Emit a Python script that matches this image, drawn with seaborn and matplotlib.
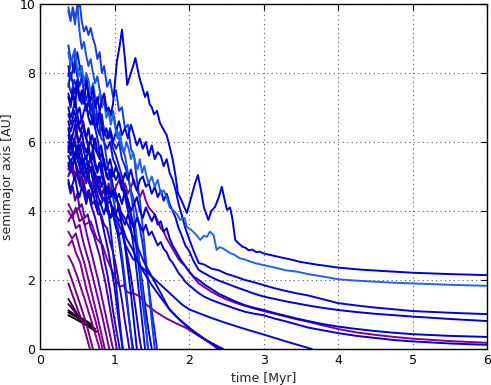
import pandas as pd
import matplotlib
matplotlib.use("Agg")
import matplotlib.pyplot as plt
from matplotlib.colors import LinearSegmentedColormap
import seaborn as sns

# ---------------- data: time [Myr] / semimajor axis [AU] per body ----------------
t_B1 = [0.38, 0.48, 0.58, 0.66, 0.74]
a_B1 = [1.06, 0.94, 0.80, 0.70, 0.58]
t_B2 = [0.38, 0.50, 0.60, 0.70, 0.76]
a_B2 = [0.98, 0.84, 0.72, 0.58, 0.50]
t_B3 = [0.38, 0.46, 0.55, 0.63, 0.70]
a_B3 = [1.12, 1.00, 0.90, 0.80, 0.70]
t_D1 = [0.38, 0.45, 0.52, 0.60]
a_D1 = [1.45, 1.20, 0.95, 0.70]
t_D2 = [0.38, 0.44, 0.50, 0.56]
a_D2 = [1.30, 1.15, 0.98, 0.80]

t_P1 = [0.38, 0.48, 0.58, 0.67]
a_P1 = [1.9, 1.3, 0.7, 0.0]
t_P2 = [0.38, 0.50, 0.62, 0.71]
a_P2 = [2.3, 1.55, 0.75, 0.0]
t_P3 = [0.38, 0.44, 0.50, 0.62, 0.74, 0.80]
a_P3 = [2.7, 2.45, 2.1, 1.3, 0.45, 0.0]
t_P4 = [0.38, 0.43, 0.48, 0.54, 0.62, 0.74, 0.84]
a_P4 = [3.0, 3.15, 2.8, 2.5, 1.75, 0.85, 0.0]
t_P5 = [0.38, 0.43, 0.48, 0.53, 0.60, 0.68, 0.78, 0.87]
a_P5 = [3.4, 3.2, 3.35, 2.95, 2.45, 1.75, 0.85, 0.0]
t_P6 = [0.38, 0.43, 0.48, 0.53, 0.58, 0.66, 0.74, 0.84, 0.93]
a_P6 = [3.7, 3.9, 3.5, 3.6, 3.1, 2.5, 1.8, 0.9, 0.0]
t_P7 = [0.38, 0.43, 0.48, 0.53, 0.58, 0.63, 0.70, 0.78, 0.88, 0.98]
a_P7 = [4.0, 3.8, 4.1, 3.7, 3.8, 3.3, 2.7, 2.0, 1.0, 0.0]
t_Q1 = [0.38, 0.42, 0.46, 0.50, 0.54, 0.58, 0.62, 0.66]
a_Q1 = [5.8, 6.2, 6.0, 6.5, 6.3, 6.6, 6.1, 5.7]

t_G1 = [0.38, 0.41, 0.44, 0.47, 0.5, 0.53, 0.56, 0.6, 0.64, 0.68, 0.72, 0.76, 0.8, 0.84,
        0.88, 0.92, 0.96, 1.0, 1.03]
a_G1 = [4.8, 4.5, 4.7, 4.3, 4.5, 4.1, 4.2, 3.8, 3.9, 3.5, 3.3, 3.0, 2.7, 2.3,
        1.9, 1.4, 0.9, 0.4, 0.0]
t_G2 = [0.38, 0.42, 0.46, 0.5, 0.54, 0.58, 0.62, 0.66, 0.7, 0.74, 0.78, 0.82, 0.86, 0.9,
        0.94, 0.98, 1.02, 1.06, 1.1, 1.14, 1.17, 1.2]
a_G2 = [5.0, 5.3, 4.9, 5.2, 4.7, 4.9, 4.5, 4.6, 4.2, 4.3, 3.9, 3.9, 3.6, 3.5,
        3.1, 2.8, 2.4, 1.9, 1.4, 0.8, 0.4, 0.0]
t_G3 = [0.38, 0.42, 0.46, 0.5, 0.54, 0.58, 0.62, 0.66, 0.7, 0.74, 0.78, 0.82, 0.86, 0.9,
        0.94, 0.98, 1.02, 1.06, 1.1, 1.14, 1.18, 1.22, 1.26, 1.3, 1.33, 1.36]
a_G3 = [6.2, 5.8, 6.1, 5.6, 5.9, 5.4, 5.6, 5.1, 5.3, 4.8, 5.0, 4.5, 4.6, 4.2,
        4.3, 3.9, 3.9, 3.6, 3.4, 3.0, 2.6, 2.1, 1.5, 0.9, 0.4, 0.0]

t_E1 = [0.38, 0.41, 0.44, 0.47, 0.5, 0.53, 0.56, 0.59, 0.62, 0.65, 0.68, 0.71, 0.74, 0.78,
        0.82, 0.86, 0.9, 0.94, 0.98, 1.02, 1.07]
a_E1 = [5.4, 5.1, 5.3, 5.5, 5.0, 4.8, 5.0, 4.6, 4.4, 4.6, 4.2, 4.0, 3.8, 3.4,
        3.1, 2.6, 2.2, 1.7, 1.1, 0.6, 0.0]
t_E2 = [0.38, 0.41, 0.44, 0.47, 0.5, 0.53, 0.56, 0.59, 0.62, 0.65, 0.68, 0.71, 0.74, 0.77,
        0.8, 0.84, 0.88, 0.92, 0.96, 1.0, 1.04, 1.07, 1.11]
a_E2 = [5.9, 5.6, 5.8, 6.0, 5.5, 5.3, 5.5, 5.1, 4.9, 5.1, 4.7, 4.5, 4.6, 4.2,
        4.0, 3.6, 3.2, 2.8, 2.3, 1.8, 1.1, 0.6, 0.0]
t_E3 = [0.38, 0.41, 0.44, 0.47, 0.5, 0.53, 0.56, 0.59, 0.62, 0.65, 0.68, 0.71, 0.74, 0.77,
        0.8, 0.83, 0.86, 0.9, 0.94, 0.98, 1.02, 1.06, 1.1, 1.14, 1.18, 1.21, 1.25]
a_E3 = [6.6, 6.3, 6.5, 6.7, 6.2, 6.0, 6.3, 5.9, 5.7, 5.9, 5.5, 5.8, 5.4, 5.2,
        5.4, 5.0, 4.8, 4.6, 4.3, 4.0, 3.6, 3.1, 2.5, 1.8, 1.1, 0.6, 0.0]
t_E4 = [0.38, 0.41, 0.44, 0.47, 0.5, 0.53, 0.56, 0.59, 0.62, 0.65, 0.68, 0.71, 0.74, 0.77,
        0.8, 0.83, 0.86, 0.9, 0.94, 0.98, 1.02, 1.06, 1.1, 1.14, 1.18, 1.22, 1.26, 1.3]
a_E4 = [7.0, 6.7, 6.9, 7.2, 6.8, 6.5, 6.7, 6.3, 6.1, 6.4, 6.0, 5.8, 6.1, 5.7,
        5.5, 5.7, 5.3, 5.0, 5.2, 4.7, 4.5, 4.0, 3.6, 3.0, 2.3, 1.6, 0.8, 0.0]
t_E5 = [0.38, 0.41, 0.44, 0.47, 0.5, 0.53, 0.56, 0.59, 0.62, 0.65, 0.68, 0.71, 0.74, 0.77,
        0.8, 0.83, 0.86, 0.9, 0.94, 0.98, 1.02, 1.06, 1.1, 1.14, 1.18, 1.22, 1.26, 1.3,
        1.34, 1.38, 1.41]
a_E5 = [7.6, 8.0, 7.7, 7.4, 7.8, 7.3, 7.1, 7.4, 6.9, 7.2, 6.8, 6.5, 6.8, 6.4,
        6.2, 6.5, 6.0, 5.8, 6.0, 5.5, 5.3, 5.0, 4.7, 4.4, 4.0, 3.5, 2.9, 2.2,
        1.4, 0.6, 0.0]
t_E6 = [0.38, 0.41, 0.44, 0.47, 0.5, 0.53, 0.56, 0.59, 0.62, 0.65, 0.68, 0.71, 0.74, 0.77,
        0.8, 0.83, 0.86, 0.9, 0.94, 0.98, 1.02, 1.06, 1.1, 1.14, 1.18, 1.22, 1.26, 1.3,
        1.34, 1.38, 1.42, 1.45]
a_E6 = [8.2, 7.8, 8.1, 8.4, 7.9, 7.6, 7.9, 7.4, 7.2, 7.5, 7.1, 6.9, 7.2, 6.7,
        6.5, 6.8, 6.3, 6.1, 6.3, 5.8, 5.6, 5.3, 5.0, 4.6, 4.3, 3.9, 3.5, 2.8,
        2.1, 1.3, 0.6, 0.0]

t_K1 = [0.38, 0.42, 0.46, 0.5, 0.54, 0.58, 0.62, 0.66, 0.7, 0.74, 0.78, 0.82, 0.86, 0.9,
        0.94, 0.98, 1.02, 1.06, 1.1, 1.14, 1.18, 1.22, 1.26, 1.3, 1.34, 1.38, 1.42, 1.46, 1.5]
a_K1 = [6.8, 6.5, 6.9, 6.6, 6.3, 6.5, 6.1, 5.9, 6.2, 5.8, 5.6, 5.9, 5.4, 5.2,
        5.5, 5.1, 4.9, 5.1, 4.7, 4.5, 4.2, 3.9, 3.5, 3.0, 2.4, 1.8, 1.1, 0.5, 0.0]
t_K2 = [0.38, 0.42, 0.46, 0.5, 0.54, 0.58, 0.62, 0.66, 0.7, 0.74, 0.78, 0.82, 0.86, 0.9,
        0.94, 0.98, 1.02, 1.06, 1.1, 1.14, 1.18, 1.22, 1.26, 1.3, 1.34, 1.38, 1.42, 1.46,
        1.5, 1.54, 1.57]
a_K2 = [7.7, 7.4, 7.8, 7.5, 7.2, 7.4, 7.0, 6.8, 7.1, 6.7, 6.5, 6.8, 6.3, 6.1,
        6.4, 6.0, 5.8, 6.0, 5.5, 5.3, 5.0, 4.6, 4.3, 3.9, 3.5, 3.0, 2.4, 1.8,
        1.1, 0.5, 0.0]

t_H1 = [0.38, 0.42, 0.46, 0.5, 0.54, 0.58, 0.62, 0.66, 0.7, 0.74, 0.78, 0.82, 0.86, 0.9,
        0.94, 0.98, 1.02, 1.06, 1.1, 1.14, 1.18, 1.21, 1.24]
a_H1 = [8.8, 8.3, 8.6, 8.0, 8.2, 7.6, 7.8, 7.2, 7.3, 6.7, 6.8, 6.1, 6.0, 5.4,
        5.0, 4.4, 3.9, 3.3, 2.7, 2.0, 1.2, 0.6, 0.0]
t_H2 = [0.38, 0.42, 0.46, 0.5, 0.54, 0.58, 0.62, 0.66, 0.7, 0.74, 0.78, 0.82, 0.86, 0.9,
        0.94, 0.98, 1.02, 1.06, 1.11]
a_H2 = [7.9, 8.4, 8.0, 8.6, 8.1, 7.7, 7.9, 7.2, 6.9, 6.4, 6.0, 5.4, 4.9, 4.3,
        3.6, 2.8, 1.9, 1.0, 0.0]

t_T1 = [0.38, 0.41, 0.44, 0.47, 0.5, 0.53, 0.56, 0.59, 0.62, 0.65, 0.68, 0.71, 0.74, 0.77,
        0.8, 0.83, 0.86, 0.9, 0.94, 0.98, 1.02, 1.06, 1.1, 1.14, 1.18, 1.22, 1.26, 1.3,
        1.34, 1.38, 1.42, 1.46, 1.5, 1.54]
a_T1 = [9.8, 9.5, 9.9, 9.6, 9.8, 10.1, 9.5, 9.2, 9.35, 9.1, 9.3, 9.0, 8.8, 8.4,
        8.6, 8.0, 8.2, 7.6, 7.8, 7.3, 7.5, 6.9, 7.0, 6.4, 6.5, 5.8, 5.6, 4.9,
        4.3, 3.5, 2.6, 1.7, 0.8, 0.0]
t_T2 = [0.38, 0.41, 0.44, 0.47, 0.5, 0.53, 0.56, 0.59, 0.62, 0.65, 0.68, 0.71, 0.74, 0.77,
        0.8, 0.83, 0.86, 0.9, 0.94, 0.98, 1.02, 1.06, 1.1, 1.14, 1.18, 1.22, 1.26, 1.3,
        1.34, 1.38, 1.42, 1.45]
a_T2 = [9.9, 9.6, 9.8, 9.4, 10.0, 9.2, 8.7, 8.9, 8.5, 8.2, 8.4, 8.0, 7.7, 7.9,
        7.5, 7.2, 7.4, 6.9, 6.7, 6.9, 6.4, 6.1, 5.8, 5.6, 5.1, 4.5, 3.9, 3.2,
        2.4, 1.6, 0.7, 0.0]

t_F1 = [0.38, 0.45, 0.52, 0.6, 0.68, 0.76, 0.84, 0.92, 1.0, 1.08, 1.16, 1.24, 1.32, 1.4,
        1.5, 1.6, 1.74, 1.87, 2.0, 2.12, 2.24, 2.35, 2.46]
a_F1 = [6.0, 5.6, 5.9, 5.3, 5.5, 4.9, 5.0, 4.5, 4.6, 4.0, 3.7, 3.3, 2.9, 2.5,
        2.1, 1.7, 1.13, 0.85, 0.6, 0.42, 0.25, 0.12, 0.0]
t_F2 = [0.38, 0.45, 0.52, 0.6, 0.68, 0.76, 0.84, 0.92, 1.0, 1.08, 1.16, 1.24, 1.32, 1.4,
        1.5, 1.6, 1.72, 1.85, 2.0, 2.12, 2.24, 2.33, 2.42]
a_F2 = [5.3, 5.6, 5.1, 5.3, 4.7, 4.8, 4.3, 4.4, 3.9, 3.7, 3.2, 2.9, 2.5, 2.2,
        1.85, 1.55, 1.2, 0.9, 0.62, 0.42, 0.24, 0.12, 0.0]
t_F3 = [0.38, 0.45, 0.52, 0.6, 0.68, 0.76, 0.84, 0.9, 0.96, 1.02, 1.07, 1.12, 1.17, 1.21,
        1.27, 1.34, 1.43, 1.55, 1.7, 1.85, 1.97, 2.1, 2.25, 2.39]
a_F3 = [4.2, 3.9, 4.1, 3.6, 3.7, 3.2, 3.0, 2.6, 2.3, 2.0, 1.8, 1.85, 1.65, 1.62,
        1.6, 1.52, 1.28, 1.08, 0.88, 0.72, 0.6, 0.42, 0.22, 0.0]

t_L1 = [0.38, 0.41, 0.44, 0.47, 0.5, 0.53, 0.56, 0.59, 0.62, 0.65, 0.68, 0.71, 0.74, 0.77,
        0.8, 0.83, 0.86, 0.89, 0.92, 0.95, 0.98, 1.03, 1.07, 1.1, 1.14, 1.17, 1.22, 1.25,
        1.28, 1.33, 1.37, 1.41, 1.44, 1.47, 1.5, 1.53, 1.57, 1.61, 1.66, 1.7, 1.74, 1.78,
        1.82, 1.85, 1.9, 1.97, 2.03, 2.08, 2.12, 2.16, 2.2, 2.26, 2.3, 2.35, 2.4, 2.44,
        2.48, 2.51, 2.55, 2.58, 2.62, 2.67, 2.72, 2.76, 2.8, 2.85, 2.9, 2.95, 3.0, 3.1,
        3.2, 3.35, 3.5, 3.7, 4.0, 4.3, 4.6, 5.0, 5.5, 6.0]
a_L1 = [7.4, 7.1, 7.5, 7.0, 7.7, 7.2, 7.5, 7.1, 7.8, 7.4, 7.2, 7.6, 7.0, 7.3,
        6.9, 7.2, 7.4, 6.9, 7.0, 6.8, 7.1, 8.3, 8.8, 9.25, 8.4, 7.65, 8.0, 8.2,
        8.43, 7.9, 7.6, 7.3, 7.45, 7.1, 7.0, 6.8, 6.9, 6.55, 6.35, 6.2, 5.86, 5.5,
        5.0, 4.52, 4.3, 3.94, 4.4, 4.8, 5.04, 4.6, 4.1, 3.74, 4.0, 4.12, 4.4, 4.7,
        4.3, 4.03, 4.1, 3.8, 3.16, 3.05, 2.96, 2.93, 2.86, 2.88, 2.81, 2.82, 2.77, 2.72,
        2.67, 2.6, 2.52, 2.45, 2.36, 2.3, 2.26, 2.21, 2.17, 2.14]
t_L2 = [0.38, 0.41, 0.44, 0.47, 0.5, 0.53, 0.56, 0.59, 0.62, 0.65, 0.68, 0.71, 0.74, 0.77,
        0.8, 0.83, 0.86, 0.89, 0.92, 0.95, 0.98, 1.01, 1.04, 1.07, 1.1, 1.13, 1.16, 1.19,
        1.22, 1.25, 1.28, 1.31, 1.34, 1.37, 1.4, 1.43, 1.46, 1.5, 1.54, 1.58, 1.62, 1.66,
        1.7, 1.74, 1.8, 1.84, 1.88, 1.94, 1.97, 2.03, 2.1, 2.15, 2.2, 2.24, 2.28, 2.33,
        2.37, 2.41, 2.45, 2.5, 2.55, 2.6, 2.68, 2.74, 2.8, 2.9, 3.0, 3.15, 3.3, 3.45,
        3.6, 3.8, 4.0, 4.25, 4.5, 4.75, 5.0, 5.5, 6.0]
a_L2 = [8.6, 8.2, 8.5, 8.7, 8.1, 7.9, 8.2, 7.7, 8.0, 7.8, 7.4, 7.7, 7.3, 7.1,
        7.4, 7.0, 7.2, 6.7, 6.9, 6.5, 6.8, 6.4, 6.1, 6.3, 5.9, 5.7, 6.0, 5.8,
        5.5, 5.7, 5.4, 5.2, 5.5, 5.1, 5.3, 5.0, 4.8, 5.0, 4.7, 4.9, 4.5, 4.6,
        4.4, 4.1, 4.0, 3.9, 3.74, 3.8, 3.54, 3.45, 3.3, 3.16, 3.28, 3.25, 3.4, 3.3,
        2.87, 2.95, 2.92, 2.85, 2.78, 2.74, 2.63, 2.6, 2.55, 2.48, 2.43, 2.36, 2.28, 2.24,
        2.17, 2.1, 2.02, 1.98, 1.95, 1.92, 1.9, 1.86, 1.83]
t_L = [0.38, 0.41, 0.44, 0.47, 0.5, 0.53, 0.56, 0.59, 0.62, 0.65, 0.68, 0.71, 0.74, 0.77,
       0.8, 0.83, 0.86, 0.89, 0.92, 0.95, 0.98, 1.02, 1.06, 1.1, 1.14, 1.18, 1.22, 1.26,
       1.3, 1.34, 1.38, 1.42, 1.46, 1.5, 1.54, 1.58, 1.62, 1.66, 1.7, 1.74, 1.78, 1.82,
       1.86, 1.9, 1.95, 2.0, 2.06, 2.13, 2.2, 2.3, 2.4, 2.5, 2.62, 2.75, 2.88, 3.0,
       3.15, 3.3, 3.45, 3.6, 3.8, 4.0, 4.25, 4.5, 4.75, 5.0, 5.5, 6.0]
a_L3 = [7.3, 7.0, 7.4, 7.2, 6.8, 7.0, 6.6, 6.9, 7.1, 6.7, 6.5, 6.8, 6.4, 6.6,
        6.9, 6.5, 6.2, 6.4, 6.1, 6.3, 6.0, 6.3, 6.6, 6.2, 6.4, 6.1, 6.5, 6.2,
        5.9, 6.1, 5.8, 6.0, 5.6, 5.9, 5.5, 5.7, 5.6, 5.3, 5.5, 5.1, 4.9, 4.6,
        4.2, 3.9, 3.5, 3.2, 2.85, 2.49, 2.45, 2.33, 2.28, 2.18, 2.1, 2.0, 1.93, 1.85,
        1.76, 1.68, 1.61, 1.55, 1.44, 1.33, 1.26, 1.2, 1.15, 1.1, 1.05, 1.01]
a_L4 = [6.4, 6.0, 6.2, 6.5, 6.1, 5.8, 6.0, 5.7, 5.5, 5.8, 5.4, 5.6, 5.3, 5.1,
        5.4, 5.2, 5.5, 5.0, 4.9, 5.2, 5.0, 5.3, 5.0, 4.8, 5.1, 4.9, 5.2, 4.8,
        4.6, 4.9, 5.0, 4.7, 4.8, 4.5, 4.7, 4.4, 4.6, 4.3, 4.5, 4.2, 4.0, 3.8,
        3.5, 3.3, 3.0, 2.85, 2.55, 2.29, 2.2, 2.08, 1.98, 1.9, 1.8, 1.7, 1.6, 1.52,
        1.45, 1.38, 1.32, 1.26, 1.19, 1.13, 1.07, 1.02, 0.98, 0.94, 0.87, 0.81]
a_L5 = [5.7, 6.1, 5.8, 5.5, 5.9, 5.6, 5.3, 5.5, 5.1, 5.4, 5.2, 4.9, 5.1, 4.8,
        5.0, 4.7, 4.9, 4.5, 4.7, 4.4, 4.6, 4.3, 4.5, 4.2, 4.6, 4.3, 4.0, 4.2,
        4.4, 4.0, 3.8, 4.1, 3.9, 3.7, 3.9, 3.6, 3.7, 3.4, 3.5, 3.2, 3.0, 2.85,
        2.7, 2.55, 2.4, 2.25, 2.1, 2.0, 1.88, 1.74, 1.6, 1.5, 1.38, 1.27, 1.19, 1.13,
        1.04, 0.96, 0.88, 0.81, 0.72, 0.65, 0.58, 0.52, 0.47, 0.43, 0.38, 0.35]
a_L6 = [5.2, 5.5, 5.3, 5.0, 5.2, 4.9, 5.3, 5.0, 4.8, 5.0, 4.7, 4.9, 4.6, 4.8,
        4.5, 4.4, 4.7, 4.5, 4.8, 4.6, 4.4, 4.7, 4.9, 4.6, 4.8, 4.5, 4.7, 4.9,
        4.6, 4.4, 4.6, 4.3, 4.1, 4.0, 3.9, 3.7, 3.5, 3.4, 3.2, 3.05, 2.9, 2.75,
        2.6, 2.5, 2.4, 2.25, 2.08, 1.9, 1.8, 1.66, 1.54, 1.44, 1.34, 1.25, 1.17, 1.1,
        1.02, 0.94, 0.86, 0.79, 0.68, 0.58, 0.48, 0.41, 0.35, 0.3, 0.23, 0.18]
a_L7 = [4.9, 4.6, 4.8, 5.0, 4.6, 4.4, 4.7, 4.5, 4.2, 4.5, 4.3, 4.6, 4.2, 4.0,
        4.3, 4.1, 3.9, 4.2, 4.0, 3.8, 4.1, 3.9, 4.2, 3.8, 3.6, 3.9, 3.7, 3.5,
        3.8, 3.6, 3.4, 3.6, 3.3, 3.4, 3.2, 3.0, 3.1, 2.9, 2.8, 2.6, 2.5, 2.35,
        2.2, 2.1, 1.95, 1.85, 1.74, 1.62, 1.52, 1.42, 1.34, 1.26, 1.17, 1.08, 1.02, 0.98,
        0.88, 0.8, 0.71, 0.62, 0.54, 0.46, 0.38, 0.32, 0.26, 0.22, 0.16, 0.12]
t_L8 = [0.38, 0.42, 0.46, 0.5, 0.54, 0.58, 0.62, 0.66, 0.7, 0.74, 0.78, 0.82, 0.86, 0.9,
        0.94, 0.98, 1.02, 1.06, 1.1, 1.15, 1.2, 1.25, 1.3, 1.35, 1.4, 1.5, 1.6, 1.7,
        1.8, 1.9, 2.0, 2.13, 2.3, 2.5, 2.75, 3.0, 3.3, 3.65]
a_L8 = [5.6, 5.3, 5.5, 5.7, 5.2, 5.0, 5.2, 4.8, 4.6, 4.8, 4.4, 4.2, 4.4, 4.0,
        3.8, 3.9, 3.5, 3.3, 3.4, 3.0, 2.8, 2.6, 2.55, 2.4, 2.3, 2.1, 1.9, 1.7,
        1.5, 1.3, 1.15, 1.04, 0.9, 0.75, 0.58, 0.42, 0.22, 0.0]

# body tracks in drawing order, with a colour shade (0 = black, ~0.4 purple, 1 = light blue)
bodies = [
    ("B1", t_B1, a_B1, 0.00), ("B2", t_B2, a_B2, 0.02), ("B3", t_B3, a_B3, 0.05),
    ("D1", t_D1, a_D1, 0.16), ("D2", t_D2, a_D2, 0.20),
    ("P1", t_P1, a_P1, 0.33), ("P2", t_P2, a_P2, 0.35), ("P3", t_P3, a_P3, 0.37),
    ("P4", t_P4, a_P4, 0.38), ("P5", t_P5, a_P5, 0.40), ("P6", t_P6, a_P6, 0.42),
    ("P7", t_P7, a_P7, 0.44), ("Q1", t_Q1, a_Q1, 0.40),
    ("F3", t_F3, a_F3, 0.39), ("L6", t_L, a_L6, 0.38),
    ("G1", t_G1, a_G1, 0.55), ("G2", t_G2, a_G2, 0.62), ("G3", t_G3, a_G3, 0.70),
    ("E1", t_E1, a_E1, 0.66), ("E2", t_E2, a_E2, 0.72), ("E3", t_E3, a_E3, 0.76),
    ("E4", t_E4, a_E4, 0.80), ("E5", t_E5, a_E5, 0.83), ("E6", t_E6, a_E6, 0.86),
    ("K1", t_K1, a_K1, 0.78), ("K2", t_K2, a_K2, 0.88),
    ("H1", t_H1, a_H1, 0.90), ("H2", t_H2, a_H2, 0.84),
    ("T1", t_T1, a_T1, 0.92), ("T2", t_T2, a_T2, 0.95),
    ("F1", t_F1, a_F1, 0.82), ("F2", t_F2, a_F2, 0.76),
    ("L8", t_L8, a_L8, 0.82), ("L7", t_L, a_L7, 0.78), ("L5", t_L, a_L5, 0.80),
    ("L4", t_L, a_L4, 0.79), ("L3", t_L, a_L3, 0.81), ("L2", t_L2, a_L2, 1.00),
    ("L1", t_L1, a_L1, 0.80),
]

# ---------------- build table ----------------
rows = []
for name, ts, avals, _ in bodies:
    for t, a in zip(ts, avals):
        rows.append({"body": name, "time": t, "a": a})
df = pd.DataFrame(rows)

cmap = LinearSegmentedColormap.from_list(
    "bp", [(0.0, "#000000"), (0.18, "#3a0040"), (0.38, "#80008c"),
           (0.6, "#3c00b4"), (0.8, "#0000cc"), (1.0, "#2463e6")])
palette = {name: cmap(shade) for name, _, _, shade in bodies}
order = [name for name, _, _, _ in bodies]

# ---------------- plot ----------------
sns.set_style("white")
plt.rcParams["font.family"] = ["DejaVu Sans"]
fig, ax = plt.subplots(figsize=(4.91, 3.85), dpi=100)
fig.subplots_adjust(left=0.0815, right=0.992, bottom=0.0935, top=0.99)

sns.lineplot(data=df, x="time", y="a", hue="body", hue_order=order, palette=palette,
             estimator=None, sort=False, legend=False, linewidth=1.4, ax=ax)

ax.set_xlim(0, 6)
ax.set_ylim(0, 10)
ax.set_xticks(range(0, 7))
ax.set_yticks(range(0, 11, 2))
ax.grid(True, color="0.35", linestyle=(0, (1, 3)), linewidth=0.8)
ax.tick_params(direction="in", top=True, right=True, length=4, width=0.8,
               labelsize=9, colors="k")
ax.set_xlabel("time [Myr]", fontsize=9)
ax.set_ylabel("semimajor axis [AU]", fontsize=9)
for s in ax.spines.values():
    s.set_visible(True)
    s.set_color("k")
    s.set_linewidth(1.0)

fig.savefig("out.png", dpi=100)
